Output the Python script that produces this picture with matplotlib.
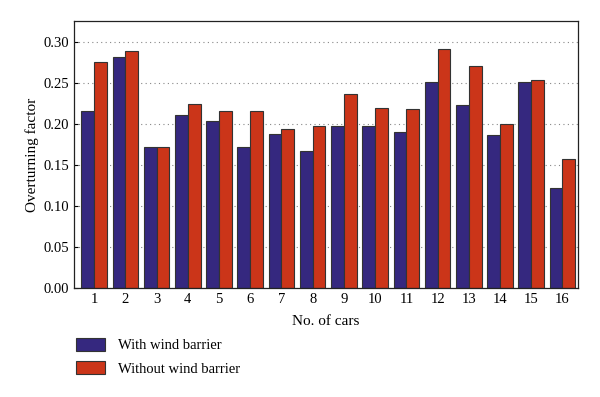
import matplotlib
matplotlib.use("Agg")
import matplotlib.pyplot as plt
import numpy as np

plt.rcParams['font.family'] = ['Liberation Serif', 'DejaVu Serif']

cars = [str(i) for i in range(1, 17)]
with_barrier = [0.215, 0.281, 0.171, 0.210, 0.203, 0.171, 0.187, 0.167,
                0.197, 0.197, 0.190, 0.251, 0.223, 0.186, 0.251, 0.122]
without_barrier = [0.275, 0.288, 0.171, 0.224, 0.215, 0.215, 0.194, 0.197,
                   0.236, 0.219, 0.218, 0.291, 0.270, 0.199, 0.253, 0.157]

blue = '#35287f'
red = '#cb3519'

fig = plt.figure(figsize=(6, 3.97), dpi=100)
ax = fig.add_axes([0.123, 0.275, 0.84, 0.672])

x = np.arange(1, len(cars) + 1)
w = 0.41
b1 = ax.bar(x - w / 2, with_barrier, w, color=blue, edgecolor='#333333', linewidth=0.8, zorder=2)
b2 = ax.bar(x + w / 2, without_barrier, w, color=red, edgecolor='#333333', linewidth=0.8, zorder=2)

ax.set_xlim(0.35, 16.49)
ax.set_ylim(0, 0.325)
ax.set_yticks(np.arange(0, 0.31, 0.05))
ax.set_yticklabels([f"{v:.2f}" for v in np.arange(0, 0.31, 0.05)])
ax.set_xticks(x)
ax.set_xticklabels(cars)
ax.tick_params(axis='x', length=0, labelsize=10.5, pad=4)
ax.tick_params(axis='y', direction='in', length=3, labelsize=10.5)
ax.yaxis.grid(True, linestyle=(0, (1, 3)), color='#888888', linewidth=0.8, zorder=0)
ax.set_axisbelow(True)
for s in ax.spines.values():
    s.set_color('#222222')
    s.set_linewidth(0.9)

ax.set_xlabel("No. of cars", fontsize=11, labelpad=6)
ax.set_ylabel("Overturning factor", fontsize=11, labelpad=3)

fig.legend([b1, b2], ["With wind barrier", "Without wind barrier"],
           loc='upper left', bbox_to_anchor=(0.127, 0.149), frameon=False,
           borderpad=0, borderaxespad=0,
           fontsize=10.5, handlelength=2.0, handleheight=1.0, labelspacing=0.6,
           handletextpad=0.9)

fig.savefig("out.png", dpi=100)
